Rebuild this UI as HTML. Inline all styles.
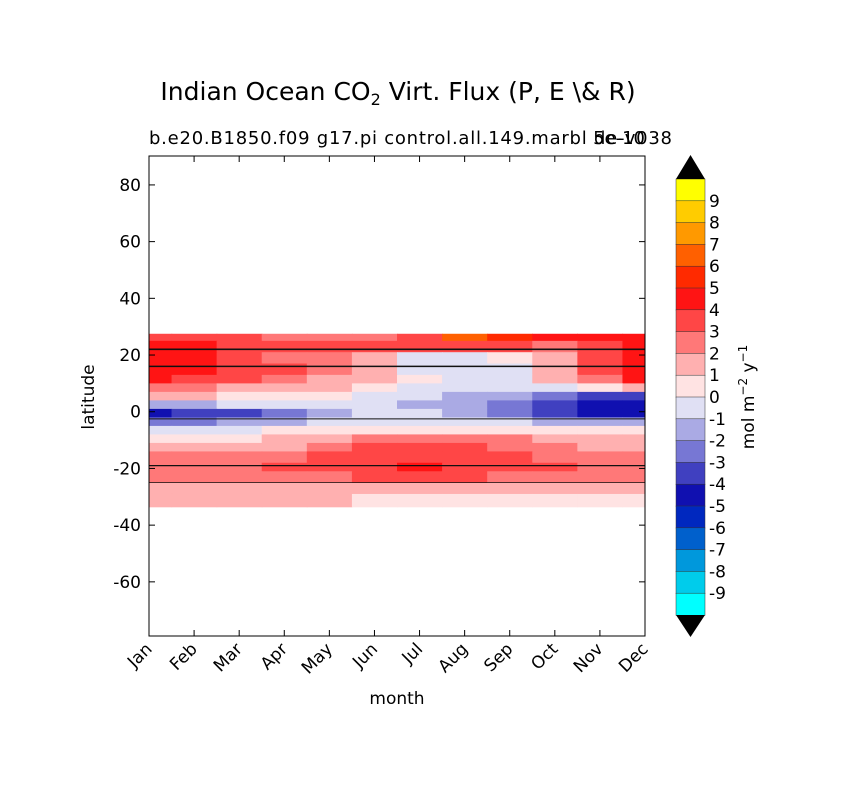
<!DOCTYPE html>
<html><head><meta charset="utf-8"><style>
body{margin:0;background:#fff;font-family:"Liberation Sans","DejaVu Sans",sans-serif}
svg text{font-family:"DejaVu Sans","Liberation Sans",sans-serif}
</style></head><body>
<svg id="c" width="841" height="788" viewBox="0 0 841 788" xmlns="http://www.w3.org/2000/svg">
<rect width="841" height="788" fill="#fff"/>
<text x="398" y="100" font-size="25" text-anchor="middle">Indian Ocean CO<tspan font-size="16" dy="5">2</tspan><tspan dy="-5"> Virt. Flux (P, E \&amp; R)</tspan></text>
<text x="149" y="144" font-size="18" textLength="523" lengthAdjust="spacing">b.e20.B1850.f09 g17.pi control.all.149.marbl de-v038</text>
<text x="645" y="144" font-size="18" text-anchor="end">5e-10</text>
<defs><clipPath id="pc"><rect x="149" y="156" width="496" height="480"/></clipPath></defs>
<g id="cells" clip-path="url(#pc)"></g>
<g id="axes"></g>
<g id="cbar"></g>
</svg>
<script>
const months=["Jan","Feb","Mar","Apr","May","Jun","Jul","Aug","Sep","Oct","Nov","Dec"];
const latEdges=[27.5,25,21,17,13,10,7,4,1,-2,-5,-8,-11,-14,-18,-21,-25,-29,-33.5];
const r0=[3,3,3,2,2,2,3,6,5,4,4,4];
const r1=[4,4,3,3,3,3,3,3,3,2,3,4];
const r2=[4,4,3,2,2,1,-1,-1,0,1,3,4];
const r3=[4,4,3,3,2,1,-1,-1,-1,1,3,4];
const r4=[4,3,3,2,1,1,0,-1,-1,1,2,4];
const r5=[2,2,1,1,1,0,-1,-1,-1,-1,0,1];
const r6=[1,1,0,0,0,-1,-1,-2,-2,-3,-4,-4];
const r7=[-2,-2,-1,-1,-1,-1,-2,-2,-3,-4,-5,-5];
const r8=[-5,-4,-4,-3,-2,-1,-1,-2,-3,-4,-5,-5];
const r9=[-3,-3,-2,-2,-1,-1,-1,-1,-1,-2,-2,-2];
const r10=[-1,-1,-1,0,0,0,0,0,0,0,0,0];
const r11=[0,0,0,1,1,2,2,2,2,1,1,1];
const r12=[1,1,1,1,2,3,3,3,2,2,1,1];
const r13=[2,2,2,2,3,3,3,3,3,2,2,2];
const r14=[2,2,2,3,3,3,4,3,3,3,2,2];
const r15=[2,2,2,2,2,3,3,3,2,2,2,2];
const r16=[1,1,1,1,1,1,1,1,1,1,1,1];
const r17=[1,1,1,1,1,0,0,0,0,0,0,0];
const rows=[r0,r1,r2,r3,r4,r5,r6,r7,r8,r9,r10,r11,r12,r13,r14,r15,r16,r17];
const yTicks=[80,60,40,20,0,-20,-40,-60];
const cbLevels=[9,8,7,6,5,4,3,2,1,0,-1,-2,-3,-4,-5,-6,-7,-8,-9];
const palette=["#ffff00","#ffcc00","#ff9900","#ff6000","#ff2a00","#ff1414","#ff4646","#ff7878","#ffb0b0","#ffe3e3","#e0e0f4","#aaaae4","#7777d4","#4040c0","#1010b0","#0028bf","#0060cc","#0098dc","#00cceb","#00ffff"];
const NS="http://www.w3.org/2000/svg";
const X0=149,X1=645,Y0=156,Y1=636,LATMAX=90.2,LATMIN=-79.1;
const xs=i=>X0+i*(X1-X0)/11;
const ys=l=>Y0+(LATMAX-l)*(Y1-Y0)/(LATMAX-LATMIN);
function colorFor(v){let idx=9-v;idx=Math.max(0,Math.min(19,idx));return palette[idx];}
function mk(t,a,p){const e=document.createElementNS(NS,t);for(const k in a)e.setAttribute(k,a[k]);(p||document.getElementById('c')).appendChild(e);return e;}
const cells=document.getElementById('cells');
rows.forEach((row,r)=>{row.forEach((v,m)=>{
 const x=xs(m)-(X1-X0)/22,w=(X1-X0)/11;
 const y=ys(latEdges[r]),h=ys(latEdges[r+1])-y;
 const e=mk('rect',{x:x,y:y,width:w+0.6,height:h+0.6,fill:colorFor(v)},cells);
 
 
});});
[[22,1.6],[16,1.4],[-2.5,1],[-19,1.2],[-25,0.8]].forEach(([l,w])=>{
 const e=mk('line',{x1:X0,x2:X1,y1:ys(l),y2:ys(l),stroke:'#111',"stroke-width":w},cells);
 
 
});
const ax=document.getElementById('axes');
const fr=mk('rect',{x:X0,y:Y0,width:X1-X0,height:Y1-Y0,fill:'none',stroke:'#000'},ax);


yTicks.forEach(t=>{const y=ys(t);
 mk('line',{x1:X0,x2:X0+6,y1:y,y2:y,stroke:'#000'},ax);mk('line',{x1:X1,x2:X1-6,y1:y,y2:y,stroke:'#000'},ax);
 const e=mk('text',{x:X0-8,y:y+6,"font-size":17,"text-anchor":"end"},ax);e.textContent=t;
 
 
});
months.forEach((m,i)=>{const x=xs(i);
 mk('line',{x1:x,x2:x,y1:Y1,y2:Y1-6,stroke:'#000'},ax);mk('line',{x1:x,x2:x,y1:Y0,y2:Y0+6,stroke:'#000'},ax);
 const e=mk('text',{x:x+4,y:Y1+14,"font-size":17,"text-anchor":"end",transform:`rotate(-45 ${x+4} ${Y1+14})`},ax);e.textContent=m;
 
 
});
let e=mk('text',{x:397,y:704,"font-size":17,"text-anchor":"middle"},ax);e.textContent='month';


e=mk('text',{x:94,y:397,"font-size":17,"text-anchor":"middle",transform:'rotate(-90 94 397)'},ax);e.textContent='latitude';


const cb=document.getElementById('cbar');
const CX0=676,CX1=705,CT=179,CB=615,bh=(CB-CT)/20;
palette.forEach((c,i)=>{const r=mk('rect',{x:CX0,y:CT+i*bh,width:CX1-CX0,height:bh+0.3,fill:c,stroke:'#333',"stroke-width":0.5},cb);
 
 
});
let t=mk('polygon',{points:`${CX0},${CT} ${CX1},${CT} ${(CX0+CX1)/2},155`,fill:'#000'},cb);


t=mk('polygon',{points:`${CX0},${CB} ${CX1},${CB} ${(CX0+CX1)/2},637`,fill:'#000'},cb);


cbLevels.forEach((l,i)=>{const y=CT+(i+1)*bh;
 const e=mk('text',{x:709,y:y+6,"font-size":17},cb);e.textContent=l;
 
 
});
e=mk('text',{x:754,y:397,"font-size":17,"text-anchor":"middle",transform:'rotate(-90 754 397)'},cb);
e.innerHTML='mol m<tspan dy="-7" font-size="12">−2</tspan><tspan dy="7">  y</tspan><tspan dy="-7" font-size="12">−1</tspan>';


</script>
</body></html>
